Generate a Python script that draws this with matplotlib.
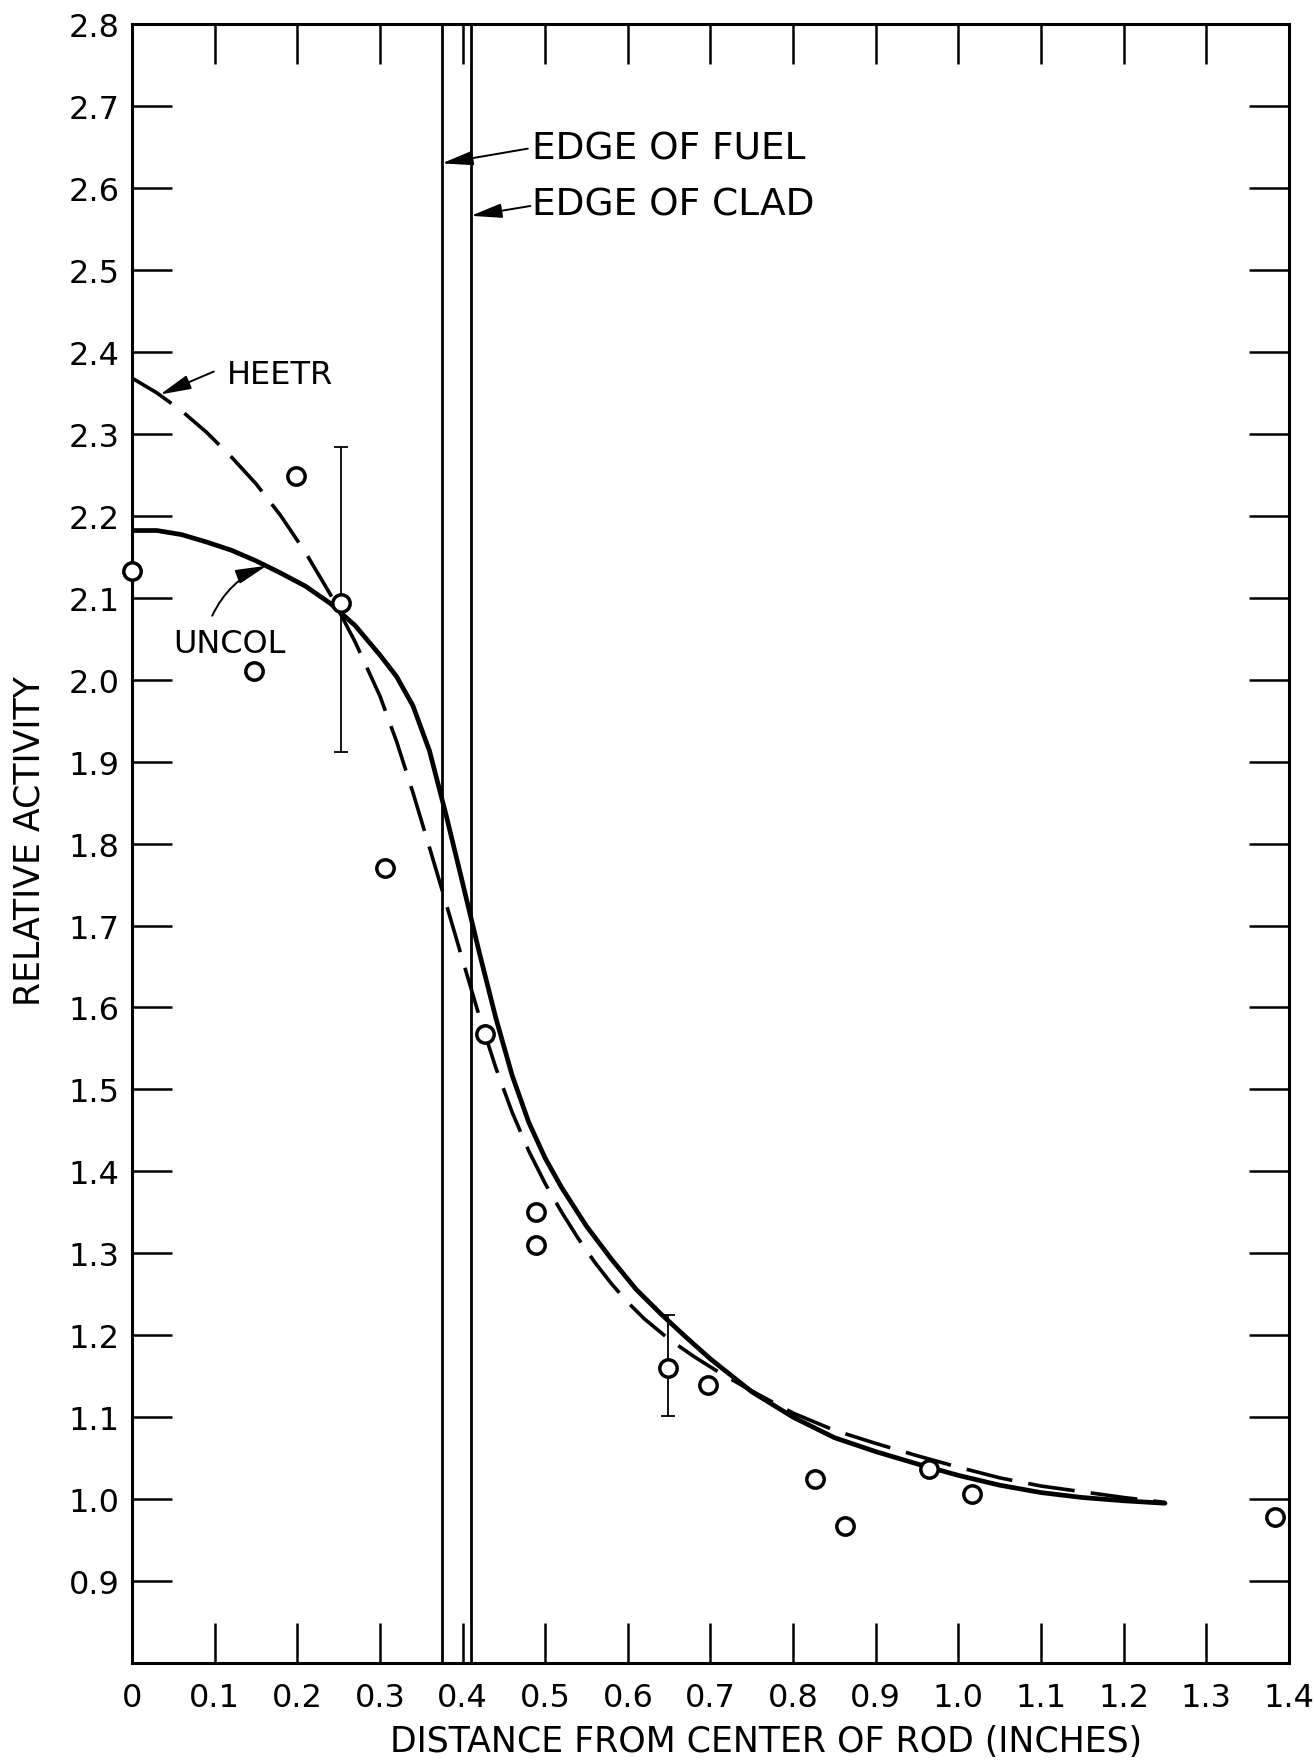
import numpy as np
import matplotlib
matplotlib.use('Agg')
import matplotlib.pyplot as plt

plt.rcParams['font.family'] = ['DejaVu Sans']

# measured activity (relative) vs. distance from rod centre
x_meas = [0.0, 0.148, 0.199, 0.253, 0.306, 0.427, 0.489, 0.489, 0.648, 0.697, 0.827, 0.863, 0.964, 1.017, 1.383]
y_meas = [2.132, 2.011, 2.249, 2.093, 1.770, 1.568, 1.351, 1.310, 1.160, 1.139, 1.025, 0.967, 1.037, 1.006, 0.978]

# points carrying error bars: (x, y, lower, upper)
x_err = [0.253, 0.648]
y_err = [2.093, 1.160]
y_err_lo = [1.912, 1.101]
y_err_hi = [2.284, 1.225]

# UNCOL calculation (solid)
x_uncol = [0.00, 0.03, 0.06, 0.09, 0.12, 0.15, 0.18, 0.21, 0.24, 0.27, 0.30, 0.32, 0.34, 0.36, 0.38,
           0.40, 0.42, 0.44, 0.46, 0.48, 0.50, 0.52, 0.55, 0.58, 0.61, 0.64, 0.67, 0.70, 0.75, 0.80,
           0.85, 0.90, 0.95, 1.00, 1.05, 1.10, 1.15, 1.20, 1.25]
y_uncol = [2.182, 2.182, 2.177, 2.168, 2.158, 2.145, 2.130, 2.114, 2.093, 2.066, 2.030, 2.004, 1.968,
           1.913, 1.835, 1.752, 1.668, 1.588, 1.517, 1.460, 1.416, 1.380, 1.333, 1.293, 1.256, 1.226,
           1.198, 1.171, 1.131, 1.100, 1.075, 1.058, 1.043, 1.029, 1.017, 1.008, 1.002, 0.998, 0.995]

# HEETR calculation (dashed)
x_heetr = [0.00, 0.03, 0.06, 0.09, 0.12, 0.15, 0.18, 0.21, 0.24, 0.27, 0.30, 0.32, 0.34, 0.36, 0.38,
           0.40, 0.42, 0.44, 0.46, 0.48, 0.50, 0.52, 0.54, 0.56, 0.58, 0.60, 0.62, 0.65, 0.68, 0.71,
           0.75, 0.80, 0.85, 0.90, 0.95, 1.00, 1.05, 1.10, 1.15, 1.20, 1.25]
y_heetr = [2.368, 2.350, 2.328, 2.302, 2.272, 2.239, 2.200, 2.155, 2.104, 2.046, 1.980, 1.925, 1.862,
           1.795, 1.727, 1.658, 1.590, 1.527, 1.472, 1.425, 1.385, 1.350, 1.318, 1.289, 1.263, 1.240,
           1.220, 1.195, 1.174, 1.155, 1.132, 1.105, 1.084, 1.068, 1.053, 1.039, 1.026, 1.016, 1.009,
           1.002, 0.996]

edge_fuel = 0.375
edge_clad = 0.41

x_ticks = [round(0.1 * i, 1) for i in range(15)]
x_ticklabels = ['0', '0.1', '0.2', '0.3', '0.4', '0.5', '0.6', '0.7', '0.8', '0.9', '1.0', '1.1', '1.2', '1.3', '1.4']
y_ticks = [round(0.9 + 0.1 * i, 1) for i in range(20)]
y_ticklabels = ['%.1f' % v for v in y_ticks]

fig = plt.figure(figsize = (13.15, 17.65), dpi = 100)
ax = fig.add_axes([0.1004, 0.0572, 0.8798, 0.9286])
ax.set_xlim(0, 1.4)
ax.set_ylim(0.8, 2.8)

ax.axvline(edge_fuel, color = 'black', linewidth = 2.0)
ax.axvline(edge_clad, color = 'black', linewidth = 2.0)

ax.plot(x_uncol, y_uncol, color = 'black', linewidth = 3.4, solid_capstyle = 'round', solid_joinstyle = 'round')
ax.plot(x_heetr, y_heetr, color = 'black', linewidth = 2.6, dashes = (13, 4.5), dash_capstyle = 'butt',
        dash_joinstyle = 'round')

lo = np.array(y_err) - np.array(y_err_lo)
hi = np.array(y_err_hi) - np.array(y_err)
ax.errorbar(x_err, y_err, yerr = [lo, hi], fmt = 'none', ecolor = 'black', elinewidth = 1.3,
            capsize = 5, capthick = 1.3)

ax.plot(x_meas, y_meas, linestyle = 'none', marker = 'o', markersize = 12.5, markeredgewidth = 2.5,
        markerfacecolor = 'white', markeredgecolor = 'black', clip_on = False, zorder = 5)

arrow = dict(arrowstyle = '-|>,head_length=0.95,head_width=0.22', color = 'black', lw = 1.4,
             shrinkA = 0, shrinkB = 0, mutation_scale = 20)

ax.annotate('', xy = (edge_fuel, 2.630), xytext = (0.479, 2.648), arrowprops = arrow)
ax.text(0.484, 2.648, 'EDGE OF FUEL', fontsize = 27, ha = 'left', va = 'center')
ax.annotate('', xy = (edge_clad, 2.566), xytext = (0.482, 2.578), arrowprops = arrow)
ax.text(0.484, 2.580, 'EDGE OF CLAD', fontsize = 27, ha = 'left', va = 'center')

ax.annotate('', xy = (0.034, 2.348), xytext = (0.099, 2.376), arrowprops = arrow)
ax.text(0.115, 2.372, 'HEETR', fontsize = 23, ha = 'left', va = 'center')

arrow_c = dict(arrow, connectionstyle = 'arc3,rad=-0.2')
ax.annotate('', xy = (0.163, 2.139), xytext = (0.097, 2.078), arrowprops = arrow_c)
ax.text(0.050, 2.044, 'UNCOL', fontsize = 23, ha = 'left', va = 'center')

ax.set_xticks(x_ticks)
ax.set_xticklabels(x_ticklabels)
ax.set_yticks(y_ticks)
ax.set_yticklabels(y_ticklabels)
ax.tick_params(axis = 'both', which = 'major', direction = 'in', length = 29, width = 1.8,
               labelsize = 23, top = True, right = True)
ax.tick_params(axis = 'x', pad = 14)
ax.tick_params(axis = 'y', pad = 9)
for s in ax.spines.values() :
    s.set_linewidth(2.2)

ax.set_xlabel('DISTANCE FROM CENTER OF ROD (INCHES)', fontsize = 25)
ax.xaxis.set_label_coords(0.548, -0.037)
ax.set_ylabel('RELATIVE ACTIVITY', fontsize = 25)
ax.yaxis.set_label_coords(-0.0735, 0.502)

fig.savefig('out.png', dpi = 100)
plt.close()
